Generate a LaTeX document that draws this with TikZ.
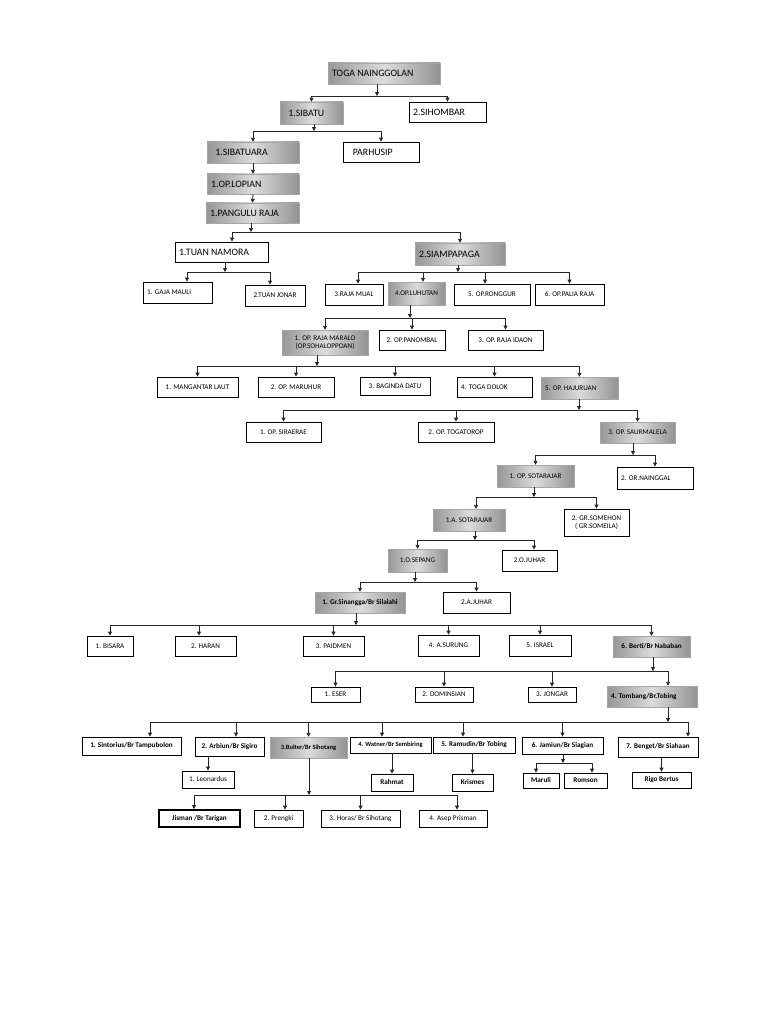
\documentclass[tikz,border=0pt]{standalone}
\usepackage{fontspec}
\setmainfont{Carlito}
\usetikzlibrary{arrows.meta, shadows}

\begin{document}
\begin{tikzpicture}[x=0.025cm, y=-0.025cm,
    member/.style={rectangle, draw=black, line width=0.6pt, fill=white, inner sep=1pt, align=center, font=\fontsize{5.1}{6}\selectfont},
    lineage/.style={rectangle, draw=gray!70, line width=0.3pt, left color=gray!82, right color=gray!85, middle color=gray!28, drop shadow={shadow xshift=1pt, shadow yshift=-1pt, opacity=0.45}, inner sep=1pt, align=center, font=\fontsize{5.1}{6}\selectfont},
    big/.style={font=\fontsize{7}{8}\selectfont},
    strong/.style={font=\fontsize{5.1}{6}\selectfont\bfseries},
    strongs/.style={font=\fontsize{4.6}{5.5}\selectfont\bfseries},
    sz/.style 2 args={minimum width=#1*0.025cm, minimum height=#2*0.025cm},
    szl/.style 2 args={sz={#1}{#2}, inner xsep=3pt, text width=#1*0.025cm-6pt, align=flush left},
    shx/.style={xshift=#1*0.025cm},
    link/.style={-{Triangle[length=2.8pt, width=2.8pt]}, line width=0.6pt, black!85}
]
\useasboundingbox (0,0) rectangle (768,1024);

\node[lineage, big, szl={112}{21}] (toga) at (384,73.5) {TOGA NAINGGOLAN};
\node[lineage, big, szl={63}{22}] (sibatu) at (311.5,113) {\hspace{3pt}1.SIBATU};
\node[member, big, szl={77}{20}] (sihombar) at (447.5,112) {2.SIHOMBAR};
\node[lineage, big, szl={92}{21}] (sibatuara) at (253,152.5) {\hspace{3pt}1.SIBATUARA};
\node[member, big, szl={76}{20}] (parhusip) at (381,152) {\hspace{4pt}PARHUSIP};
\node[lineage, big, szl={92}{20}] (lopian) at (253,184) {1.OP.LOPIAN};
\node[lineage, big, szl={93}{20}] (pangulu) at (252.5,213) {1.PANGULU RAJA};
\node[member, big, szl={93}{20}] (namora) at (221.5,252) {1.TUAN NAMORA};
\node[lineage, big, szl={90}{22}] (siampapaga) at (460,254) {2.SIAMPAPAGA};

\node[member, szl={69}{21}] (gaja) at (177.5,292.5) {1. GAJA MAULI};
\node[member, sz={60}{21}] (tjonar) at (275,295.5) {2.TUAN JONAR};
\node[member, sz={58}{21}] (rmual) at (354,294.5) {3.RAJA MUAL};
\node[lineage, sz={57}{23}] (luhutan) at (416.5,293.5) {4.OP.LUHUTAN};
\node[member, sz={76}{21}] (ronggur) at (492,294.5) {5. OP.RONGGUR};
\node[member, sz={69}{21}] (palia) at (569.5,294.5) {6. OP.PALIA RAJA};

\node[lineage, sz={86}{25}] (maralo) at (325,342.5) {1. OP. RAJA MARALO\\(OP.SOHALOPPOAN)};
\node[member, sz={66}{20}] (panombal) at (412,340) {2. OP.PANOMBAL};
\node[member, sz={75}{20}] (idaon) at (505.5,340) {3. OP. RAJA IDAON};

\node[member, sz={81}{20}] (mangantar) at (197.5,387) {1. MANGANTAR LAUT};
\node[member, sz={76}{20}] (maruhur) at (296,387) {2. OP. MARUHUR};
\node[member, sz={70}{18}] (baginda) at (395,386) {3. BAGINDA DATU};
\node[member, szl={75}{20}] (togadolok) at (494.5,387) {4. TOGA DOLOK};
\node[lineage, szl={77}{22}] (hajuruan) at (579.5,388) {5. OP. HAJURUAN};

\node[member, sz={75}{20}] (siraerae) at (283.5,432) {1. OP. SIRAERAE};
\node[member, sz={76}{20}] (togatorop) at (456,432) {2. OP. TOGATOROP};
\node[lineage, sz={75}{21}] (saurmalela) at (637.5,432.5) {3. OP. SAURMALELA};

\node[lineage, sz={77}{22}] (sotarajar) at (535.5,476) {1. OP. SOTARAJAR};
\node[member, szl={76}{22}] (nainggal) at (655,478) {2. OR.NAINGGAL};
\node[lineage, sz={72}{22}] (asota) at (469,520) {1.A. SOTARAJAR};
\node[member, sz={65}{27}] (somehon) at (596.5,522.5) {2. GR.SOMEHON\\( GR.SOMEILA)};
\node[lineage, sz={59}{23}] (sepang) at (417.5,560.5) {1.O.SEPANG};
\node[member, sz={55}{21}] (ojuhar) at (529.5,560.5) {2.O.JUHAR};
\node[lineage, strong, sz={90}{21}] (sinangga) at (360,602.5) {1. Gr.Sinangga/Br Silalahi};
\node[member, sz={67}{21}] (ajuhar) at (476.5,602.5) {2.A.JUHAR};

\node[member, sz={46}{20}] (bisara) at (110,646) {1. BISARA};
\node[member, sz={61}{20}] (haran) at (205.5,646) {2. HARAN};
\node[member, sz={61}{20}] (paidmen) at (333.5,646) {3. PAIDMEN};
\node[member, sz={61}{21}] (asurung) at (448.5,645.5) {4. A.SURUNG};
\node[member, sz={62}{21}] (israel) at (540,645.5) {5. ISRAEL};
\node[lineage, strong, sz={77}{21}] (berti) at (651.5,646.5) {6. Berti/Br Nababan};

\node[member, sz={49}{15}] (eser) at (335.5,694.5) {1. ESER};
\node[member, sz={58}{15}] (dominsian) at (444,694.5) {2. DOMINSIAN};
\node[member, sz={48}{15}] (jongar) at (552,694.5) {3. JONGAR};
\node[lineage, strong, szl={90}{21}] (tombang) at (652,696.5) {4. Tombang/Br.Tobing};

\node[member, strong, sz={99}{18}] (sintorius) at (131.5,746) {1. Sintorius/Br Tampubolon};
\node[member, strong, sz={69}{19}] (arbiun) at (229.5,746.5) {2. Arbiun/Br Sigiro};
\node[lineage, strongs, sz={77}{21}] (bulter) at (308.5,747.5) {3.Bulter/Br Sihotang};
\node[member, strongs, sz={81}{16}] (watner) at (390.5,745) {4. Watner/Br Sembiring};
\node[member, strong, sz={82}{16}] (ramudin) at (474,745) {5. Ramudin/Br Tobing};
\node[member, strong, sz={81}{17}] (jamiun) at (562.5,745.5) {6. Jamiun/Br Siagian};
\node[member, strong, sz={80}{20}] (benget) at (658,747) {7. Benget/Br Siahaan};

\node[member, sz={52}{17}] (leonardus) at (208,779.5) {1. Leonardus};
\node[member, strong, sz={42}{17}] (rahmat) at (392,782.5) {Rahmat};
\node[member, strong, sz={41}{17}] (krismes) at (472.5,782.5) {Krismes};
\node[member, strong, sz={36}{15}] (maruli) at (541,780.5) {Maruli};
\node[member, strong, sz={43}{15}] (romson) at (585.5,780.5) {Romson};
\node[member, strong, sz={59}{16}] (rigo) at (661.5,780) {Rigo Bertus};

\node[member, strong, line width=1.4pt, sz={81}{17}] (jisman) at (199.5,818.5) {Jisman /Br Tarigan};
\node[member, sz={49}{17}] (prengki) at (278.5,818.5) {2. Prengki};
\node[member, sz={79}{17}] (horas) at (360.5,818.5) {3. Horas/ Br Sihotang};
\node[member, sz={68}{17}] (asep) at (453,818.5) {4. Asep Prisman};

\coordinate (j1) at (377,96);
\coordinate (j2) at (314,131);
\coordinate (j3) at (251,232);
\coordinate (j4) at (225,272);
\coordinate (j5) at (458,272);
\coordinate (j6) at (410,318);
\coordinate (j7) at (317,366);
\coordinate (j8) at (579,410);
\coordinate (j9) at (633,455);
\coordinate (j10) at (534,497);
\coordinate (j11) at (475,540);
\coordinate (j12) at (415,582);
\coordinate (j13) at (356,625);
\coordinate (j14) at (653,671);
\coordinate (j15) at (668,722);
\coordinate (j16) at (309,795);
\coordinate (j17) at (563,763);

\draw[link] (toga.south -| j1) -- (j1);
\foreach \c in {sibatu,sihombar} \draw[link] (j1) -| (\c.north);
\draw[link] (sibatu.south -| j2) -- (j2);
\foreach \c in {sibatuara,parhusip} \draw[link] (j2) -| (\c.north);
\draw[link] (sibatuara.south) -- (lopian.north);
\draw[link] (lopian.south) -- (pangulu.north);
\draw[link] (pangulu.south -| j3) -- (j3);
\draw[link] (j3) -| ([shx=10.5]namora.north);
\draw[link] (j3) -| (siampapaga.north);
\draw[link] (namora.south -| j4) -- (j4);
\draw[link] (j4) -| ([shx=9.5]gaja.north);
\draw[link] (j4) -| ([shx=-5]tjonar.north);
\draw[link] (siampapaga.south -| j5) -- (j5);
\draw[link] (j5) -| ([shx=4]rmual.north);
\draw[link] (j5) -| ([shx=6.5]luhutan.north);
\draw[link] (j5) -| ([shx=-7]ronggur.north);
\draw[link] (j5) -| (palia.north);
\draw[link] (luhutan.south -| j6) -- (j6);
\foreach \c in {maralo,panombal,idaon} \draw[link] (j6) -| (\c.north);
\draw[link] (maralo.south -| j7) -- (j7);
\foreach \c in {mangantar,maruhur,baginda,togadolok,hajuruan} \draw[link] (j7) -| (\c.north);
\draw[link] (hajuruan.south -| j8) -- (j8);
\foreach \c in {siraerae,togatorop,saurmalela} \draw[link] (j8) -| (\c.north);
\draw[link] (saurmalela.south -| j9) -- (j9);
\foreach \c in {sotarajar,nainggal} \draw[link] (j9) -| (\c.north);
\draw[link] (sotarajar.south -| j10) -- (j10);
\draw[link] (j10) -| ([shx=7]asota.north);
\draw[link] (j10) -| (somehon.north);
\draw[link] (asota.south -| j11) -- (j11);
\draw[link] (j11) -| (sepang.north);
\draw[link] (j11) -| ([shx=4.5]ojuhar.north);
\draw[link] (sepang.south -| j12) -- (j12);
\foreach \c in {sinangga,ajuhar} \draw[link] (j12) -| (\c.north);
\draw[link] (sinangga.south -| j13) -- (j13);
\foreach \c in {bisara,paidmen,asurung,israel,berti} \draw[link] (j13) -| (\c.north);
\draw[link] (j13) -| ([shx=-6.5]haran.north);
\draw[link] (berti.south -| j14) -- (j14);
\foreach \c in {eser,dominsian,jongar} \draw[link] (j14) -| (\c.north);
\draw[link] (j14) -| ([shx=16]tombang.north);
\draw[link] (tombang.south -| j15) -- (j15);
\draw[link] (j15) -| ([shx=18.5]sintorius.north);
\draw[link] (j15) -| ([shx=6.5]arbiun.north);
\draw[link] (j15) -| (bulter.north);
\draw[link] (j15) -| ([shx=-8.5]watner.north);
\draw[link] (j15) -| ([shx=-11]ramudin.north);
\draw[link] (j15) -| (jamiun.north);
\draw[link] (j15) -| ([shx=30]benget.north);
\draw[link] (arbiun.south -| leonardus.north) -- (leonardus.north);
\draw[link] (bulter.south -| j16) -- (j16);
\draw[link] (j16) -| ([shx=-5.5]jisman.north);
\draw[link] (j16) -| ([shx=6.5]prengki.north);
\draw[link] (j16) -| (horas.north);
\draw[link] (j16) -| ([shx=4]asep.north);
\draw[link] (watner.south -| rahmat.north) -- (rahmat.north);
\draw[link] (ramudin.south -| krismes.north) -- (krismes.north);
\draw[link] (jamiun.south -| j17) -- (j17);
\draw[link] (j17) -| ([shx=-5]maruli.north);
\draw[link] (j17) -| ([shx=6.5]romson.north);
\draw[link] (benget.south -| rigo.north) -- (rigo.north);
\end{tikzpicture}
\end{document}
